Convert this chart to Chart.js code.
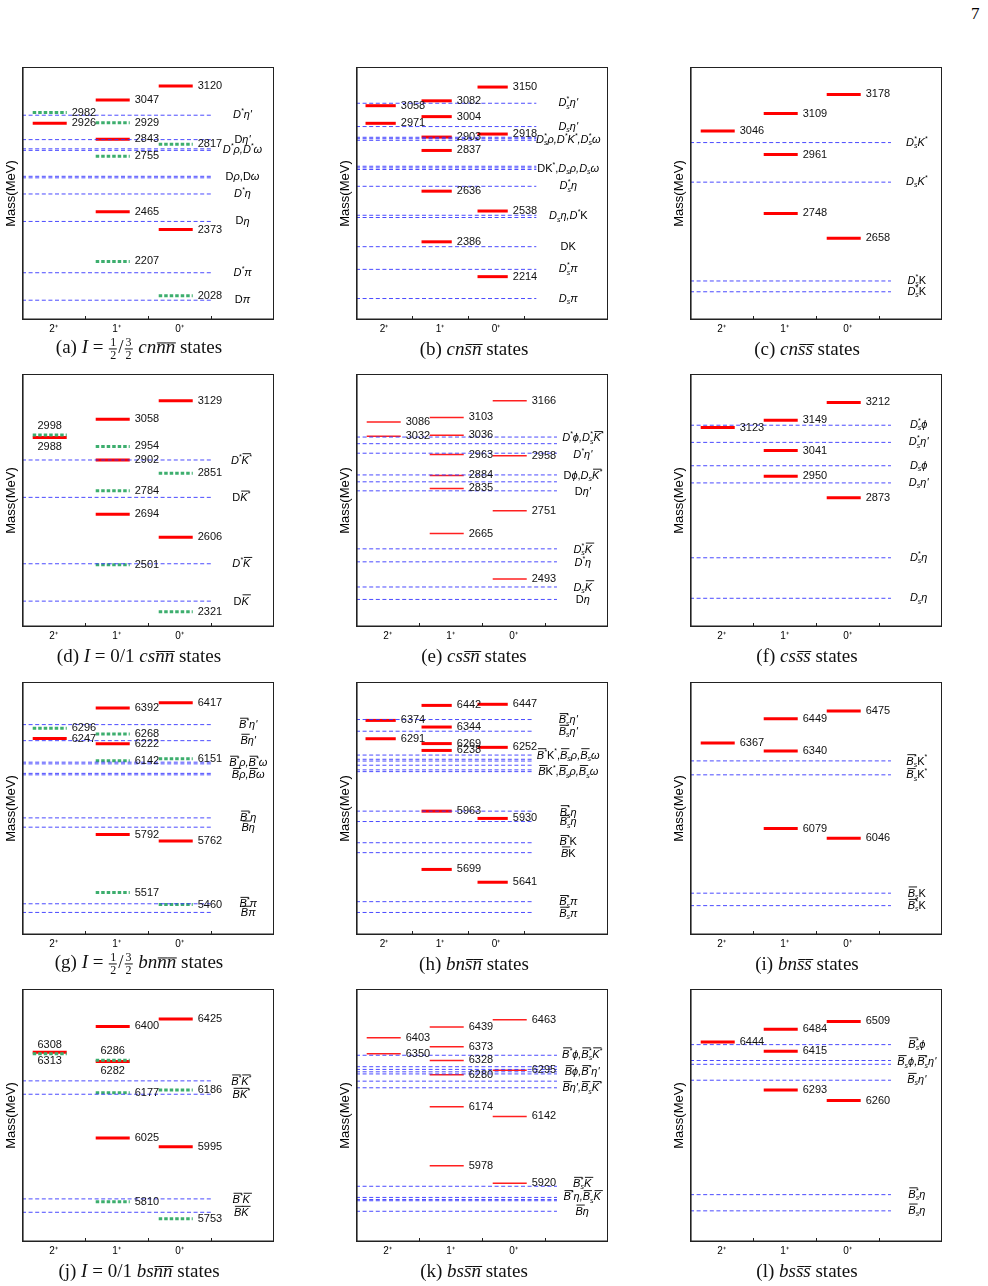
<!DOCTYPE html>
<html>
<head>
<meta charset="utf-8">
<script src="https://cdn.jsdelivr.net/npm/chart.js@4.4.1/dist/chart.umd.min.js"></script>
<style>
body{margin:0;background:#fff;}
#page{position:relative;width:988px;height:1286px;overflow:hidden;background:#fff;}
.pn{position:absolute;}
.cap{position:absolute;transform:translate(-50%,-50%);font-family:"Liberation Serif","Times New Roman",serif;font-size:19px;white-space:nowrap;color:#111;}
.cap i{font-style:italic;}
.o{position:relative;}
.o::after{content:"";position:absolute;left:1px;right:-1px;top:0.3em;border-top:1px solid #111;}
.fr{display:inline-block;vertical-align:middle;text-align:center;font-size:12px;line-height:12px;margin:0 1px;}
.fr span{display:block;padding:0 1px;}
.fr span+span{border-top:1px solid #111;}
#pnum{position:absolute;left:971px;top:4px;font-family:"Liberation Serif",serif;font-size:17px;}
</style>
</head>
<body>
<div id="page">
<div id="pnum">7</div>
</div>
<script>
// spin-parity columns
var jpCats = ["2+", "1+", "0+"];
var jpTicks = ["2\u207A", "1\u207A", "0\u207A"];

// (a) I=1/2,3/2 cn nbar nbar   r = red level, g = green dotted level
var aLevels = [["2+",2926,"r"],["2+",2982,"g"],["1+",3047,"r"],["1+",2929,"g"],["1+",2843,"r"],["1+",2755,"g"],["1+",2465,"r"],["1+",2207,"g"],["0+",3120,"r"],["0+",2817,"g"],["0+",2373,"r"],["0+",2028,"g"]];
var aThr = [2968, 2841, 2785, 2793, 2642, 2650, 2558, 2415, 2148, 2005];
var aLab = ["$D^*η'", "D$η'", "$D^*ρ,D^*ω", "D$ρ$,D$ω", "$D^*η", "D$η", "$D^*π", "D$π"];
var aLabAt = [2968, 2841, 2789, 2646, 2558, 2415, 2148, 2005];
var aRange = [1902, 3219];

// (b) cn sbar nbar
var bLevels = [["2+",3058,"r"],["2+",2971,"r"],["1+",3082,"r"],["1+",3004,"r"],["1+",2903,"r"],["1+",2837,"r"],["1+",2636,"r"],["1+",2386,"r"],["0+",3150,"r"],["0+",2918,"r"],["0+",2538,"r"],["0+",2214,"r"]];
var bThr = [3070, 2955, 2887, 2895, 2902, 2759, 2751, 2743, 2660, 2517, 2506, 2362, 2250, 2106];
var bLab = ["$D^*_sη'", "$D_sη'", "$D^*_sρ,D^*K^*,D^*_sω", "DK^*,$D_sρ,D_sω", "$D^*_sη", "$D_sη,D^*$K", "DK", "$D^*_sπ", "$D_sπ"];
var bLabAt = [3070, 2955, 2890, 2745, 2660, 2512, 2362, 2250, 2106];
var bRange = [2000, 3249];

// (c) cn sbar sbar
var cLevels = [["2+",3046,"r"],["1+",3109,"r"],["1+",2961,"r"],["1+",2748,"r"],["0+",3178,"r"],["0+",2658,"r"]];
var cThr = [3004, 2861, 2504, 2465];
var cLab = ["$D^*_sK^*", "$D_sK^*", "$D^*_s$K", "$D^*_s$K"];
var cLabAt = [3004, 2861, 2504, 2465];
var cRange = [2363, 3277];

// (d) I=0/1 cs nbar nbar
var dLevels = [["2+",2988,"r","d"],["2+",2998,"g","u"],["1+",3058,"r"],["1+",2954,"g"],["1+",2902,"r"],["1+",2784,"g"],["1+",2694,"r"],["1+",2501,"g"],["0+",3129,"r"],["0+",2851,"g"],["0+",2606,"r"],["0+",2321,"g"]];
var dThr = [2902, 2759, 2505, 2362];
var dLab = ["$D^*~K^*", "D$~K^*", "$D^*~K", "D$~K"];
var dLabAt = [2900, 2757, 2503, 2360];
var dRange = [2263, 3231];

// (e) cs sbar nbar
var eLevels = [["2+",3086,"r"],["2+",3032,"r"],["1+",3103,"r"],["1+",3036,"r"],["1+",2963,"r"],["1+",2884,"r"],["1+",2835,"r"],["1+",2665,"r"],["0+",3166,"r"],["0+",2958,"r"],["0+",2751,"r"],["0+",2493,"r"]];
var eThr = [3029, 3004, 2968, 2886, 2860, 2826, 2607, 2558, 2463, 2416];
var eLab = ["$D^*ϕ,D^*_s~K^*", "$D^*η'", "D$ϕ$,$D_s~K^*", "D$η'", "$D^*_s~K", "$D^*η", "$D_s~K", "D$η"];
var eLabAt = [3024, 2961, 2882, 2820, 2603, 2552, 2461, 2414];
var eRange = [2312, 3267];

// (f) cs sbar sbar
var fLevels = [["2+",3123,"r"],["1+",3149,"r"],["1+",3041,"r"],["1+",2950,"r"],["0+",3212,"r"],["0+",2873,"r"]];
var fThr = [3131, 3070, 2987, 2926, 2660, 2516];
var fLab = ["$D^*_sϕ", "$D^*_sη'", "$D_sϕ", "$D_sη'", "$D^*_sη", "$D_sη"];
var fLabAt = [3131, 3070, 2987, 2926, 2660, 2516];
var fRange = [2414, 3313];

// (g) I=1/2,3/2 bn nbar nbar
var gLevels = [["2+",6247,"r"],["2+",6296,"g"],["1+",6392,"r"],["1+",6268,"g"],["1+",6222,"r"],["1+",6142,"g"],["1+",5792,"r"],["1+",5517,"g"],["0+",6417,"r"],["0+",6151,"g"],["0+",5762,"r"],["0+",5460,"g"]];
var gThr = [6313, 6237, 6127, 6135, 6075, 6082, 5871, 5827, 5464, 5423];
var gLab = ["$~B^*η'", "$~Bη'", "$~B^*ρ,~B^*ω", "$~Bρ,~Bω", "$~B^*η", "$~Bη", "$~B^*π", "$~Bπ"];
var gLabAt = [6311, 6235, 6131, 6073, 5871, 5824, 5462, 5420];
var gRange = [5316, 6515];

// (h) bn sbar nbar
var hLevels = [["2+",6374,"r"],["2+",6291,"r"],["1+",6442,"r"],["1+",6344,"r"],["1+",6269,"r"],["1+",6238,"r"],["1+",5963,"r"],["1+",5699,"r"],["0+",6447,"r"],["0+",6252,"r"],["0+",5930,"r"],["0+",5641,"r"]];
var hThr = [6378, 6325, 6217, 6198, 6190, 6171, 6150, 6142, 5963, 5916, 5820, 5775, 5553, 5504];
var hLab = ["$~B^*_sη'", "$~B_sη'", "$~B^*$K^*,$~B_sρ,~B_sω", "$~B$K^*,$~B_sρ,~B_sω", "$~B^*_sη", "$~B_sη", "$~B^*$K", "$~B$K", "$~B^*_sπ", "$~B_sπ"];
var hLabAt = [6374, 6321, 6215, 6139, 5957, 5912, 5822, 5770, 5550, 5497];
var hRange = [5402, 6548];

// (i) bn sbar sbar
var iLevels = [["2+",6367,"r"],["1+",6449,"r"],["1+",6340,"r"],["1+",6079,"r"],["0+",6475,"r"],["0+",6046,"r"]];
var iThr = [6307, 6260, 5861, 5819];
var iLab = ["$~B^*_s$K^*", "$~B_s$K^*", "$~B_s$K", "$~B^*_s$K"];
var iLabAt = [6305, 6258, 5859, 5817];
var iRange = [5720, 6573];

// (j) I=0/1 bs nbar nbar
var jLevels = [["2+",6313,"r","d"],["2+",6308,"g","u"],["1+",6400,"r"],["1+",6282,"r","d"],["1+",6286,"g","u"],["1+",6177,"g"],["1+",6025,"r"],["1+",5810,"g"],["0+",6425,"r"],["0+",6186,"g"],["0+",5995,"r"],["0+",5753,"g"]];
var jThr = [6217, 6172, 5820, 5775];
var jLab = ["$~B^*~K^*", "$~B~K^*", "$~B^*~K", "$~B~K"];
var jLabAt = [6214, 6169, 5816, 5772];
var jRange = [5675, 6526];

// (k) bs sbar nbar
var kLevels = [["2+",6403,"r"],["2+",6350,"r"],["1+",6439,"r"],["1+",6373,"r"],["1+",6328,"r"],["1+",6280,"r"],["1+",6174,"r"],["1+",5978,"r"],["0+",6463,"r"],["0+",6295,"r"],["0+",6142,"r"],["0+",5920,"r"]];
var kThr = [6345, 6307, 6298, 6290, 6283, 6259, 6237, 5910, 5873, 5866, 5862, 5827];
var kLab = ["$~B^*ϕ,~B^*_s~K^*", "$~Bϕ,~B^*η'", "$~Bη',~B_s~K^*", "$~B^*_s~K", "$~B^*η,~B_s~K", "$~Bη"];
var kLabAt = [6347, 6288, 6235, 5917, 5873, 5825];
var kRange = [5725, 6565];

// (l) bs sbar sbar
var lLevels = [["2+",6444,"r"],["1+",6484,"r"],["1+",6415,"r"],["1+",6293,"r"],["0+",6509,"r"],["0+",6260,"r"]];
var lThr = [6436, 6386, 6374, 6324, 5964, 5913];
var lLab = ["$~B^*_sϕ", "$~B_sϕ,~B^*_sη'", "$~B_sη'", "$~B^*_sη", "$~B_sη"];
var lLabAt = [6436, 6380, 6324, 5964, 5913];
var lRange = [5815, 6611];

var FONT = '"Liberation Sans", Arial, Helvetica, sans-serif';
Chart.defaults.font.family = FONT;

// tiny markup: $ toggles italic, ^x superscript, _x subscript, ~x overline
function drawRich(ctx, str, cx, cy, size) {
  var runs = [], it = false;
  for (var i = 0; i < str.length; i++) {
    var c = str[i];
    if (c === "$") { it = !it; continue; }
    var mode = "n", over = false;
    if (c === "^" || c === "_") { mode = c === "^" ? "sup" : "sub"; c = str[++i]; }
    else if (c === "~") { over = true; c = str[++i]; }
    runs.push({ c: c, it: it, mode: mode, over: over });
  }
  function fnt(r) {
    return (r.it ? "italic " : "") + (r.mode === "n" ? size : Math.round(size * 0.68)) + "px " + FONT;
  }
  var x = 0, pos = [];
  for (var j = 0; j < runs.length; j++) {
    var r = runs[j];
    ctx.font = fnt(r);
    var w = ctx.measureText(r.c).width;
    var pr = runs[j - 1];
    if (r.mode !== "n" && pr && pr.mode !== "n" && pr.mode !== r.mode && !pr.stacked) {
      r.stacked = true;
      pos.push({ x: pos[j - 1].x, w: w });
      x = Math.max(x, pos[j - 1].x + w);
    } else {
      pos.push({ x: x, w: w });
      x += w;
    }
  }
  var sx = cx - x / 2;
  ctx.fillStyle = "#000";
  ctx.strokeStyle = "#000";
  ctx.textAlign = "left";
  ctx.textBaseline = "middle";
  for (var k = 0; k < runs.length; k++) {
    var q = runs[k];
    ctx.font = fnt(q);
    var dy = q.mode === "sup" ? -size * 0.36 : q.mode === "sub" ? size * 0.3 : 0;
    ctx.fillText(q.c, sx + pos[k].x, cy + dy);
    if (q.over) {
      ctx.lineWidth = 0.9;
      ctx.beginPath();
      ctx.moveTo(sx + pos[k].x + 1, cy - size * 0.62);
      ctx.lineTo(sx + pos[k].x + pos[k].w + 2, cy - size * 0.62);
      ctx.stroke();
    }
  }
}

var levelText = {
  id: "levelText",
  afterDatasetsDraw: function (chart, args, opts) {
    var ctx = chart.ctx, xs = chart.scales.x, ys = chart.scales.y, a = chart.chartArea;
    ctx.save();
    // state masses next to the bars
    ctx.font = "11px " + FONT;
    ctx.fillStyle = "#111";
    chart.data.datasets.forEach(function (ds, i) {
      if (ds.kind !== "state") return;
      var m = chart.getDatasetMeta(i);
      var p0 = m.data[0], p1 = m.data[1];
      if (ds.labPos === "u" || ds.labPos === "d") {
        ctx.textAlign = "center";
        ctx.textBaseline = "middle";
        ctx.fillText(ds.lab, (p0.x + p1.x) / 2, p1.y + (ds.labPos === "u" ? -9 : 9));
      } else {
        ctx.textAlign = "left";
        ctx.textBaseline = "middle";
        ctx.fillText(ds.lab, p1.x + 5, p1.y);
      }
    });
    // threshold names
    opts.lab.forEach(function (t, i) {
      drawRich(ctx, t, xs.getPixelForValue(opts.labX), ys.getPixelForValue(opts.at[i]), 11);
    });
    // frame and inward ticks
    ctx.strokeStyle = "#222";
    ctx.lineWidth = 1;
    ctx.strokeRect(Math.round(a.left) + 0.5, Math.round(a.top) + 0.5, Math.round(a.right - a.left) - 1, Math.round(a.bottom - a.top) - 1);
    ctx.lineWidth = 1.6;
    ctx.beginPath();
    ctx.moveTo(a.left + 0.8, a.top);
    ctx.lineTo(a.left + 0.8, a.bottom - 0.8);
    ctx.lineTo(a.right, a.bottom - 0.8);
    ctx.stroke();
    ctx.lineWidth = 1;
    [1, 2, 3].forEach(function (v) {
      var x = Math.round(xs.getPixelForValue(v)) + 0.5;
      ctx.beginPath();
      ctx.moveTo(x, a.bottom);
      ctx.lineTo(x, a.bottom - 4);
      ctx.stroke();
    });
    ctx.restore();
  }
};

var colLeft = [22, 356, 690];
var rowTop = [67, 374, 682, 989];
var capMid = [139, 474, 807];
var capY = [349, 656, 964, 1271];

var panels = [
  { lv: aLevels, thr: aThr, lab: aLab, at: aLabAt, rg: aRange, col: 0, row: 0, xMax: 4.0, thrEnd: 3.0, labX: 3.5 },
  { lv: bLevels, thr: bThr, lab: bLab, at: bLabAt, rg: bRange, col: 1, row: 0, xMax: 4.5, thrEnd: 3.22, labX: 3.79 },
  { lv: cLevels, thr: cThr, lab: cLab, at: cLabAt, rg: cRange, col: 2, row: 0, xMax: 4.0, thrEnd: 3.19, labX: 3.6 },
  { lv: dLevels, thr: dThr, lab: dLab, at: dLabAt, rg: dRange, col: 0, row: 1, xMax: 4.0, thrEnd: 3.0, labX: 3.48 },
  { lv: eLevels, thr: eThr, lab: eLab, at: eLabAt, rg: eRange, col: 1, row: 1, xMax: 4.0, thrEnd: 3.19, labX: 3.6, thin: true },
  { lv: fLevels, thr: fThr, lab: fLab, at: fLabAt, rg: fRange, col: 2, row: 1, xMax: 4.0, thrEnd: 3.19, labX: 3.63 },
  { lv: gLevels, thr: gThr, lab: gLab, at: gLabAt, rg: gRange, col: 0, row: 2, xMax: 4.0, thrEnd: 3.0, labX: 3.59 },
  { lv: hLevels, thr: hThr, lab: hLab, at: hLabAt, rg: hRange, col: 1, row: 2, xMax: 4.5, thrEnd: 3.17, labX: 3.79 },
  { lv: iLevels, thr: iThr, lab: iLab, at: iLabAt, rg: iRange, col: 2, row: 2, xMax: 4.0, thrEnd: 3.19, labX: 3.6 },
  { lv: jLevels, thr: jThr, lab: jLab, at: jLabAt, rg: jRange, col: 0, row: 3, xMax: 4.0, thrEnd: 3.0, labX: 3.48 },
  { lv: kLevels, thr: kThr, lab: kLab, at: kLabAt, rg: kRange, col: 1, row: 3, xMax: 4.0, thrEnd: 3.19, labX: 3.59, thin: true },
  { lv: lLevels, thr: lThr, lab: lLab, at: lLabAt, rg: lRange, col: 2, row: 3, xMax: 4.0, thrEnd: 3.19, labX: 3.6 }
];

var fr = function (n, d) { return '<span class="fr"><span>' + n + '</span><span>' + d + '</span></span>'; };
var ov = function (c) { return '<span class="o">' + c + '</span>'; };
var captions = [
  '(a) <i>I</i> = ' + fr(1, 2) + '/' + fr(3, 2) + ' <i>cn' + ov('n') + ov('n') + '</i> states',
  '(b) <i>cn' + ov('s') + ov('n') + '</i> states',
  '(c) <i>cn' + ov('s') + ov('s') + '</i> states',
  '(d) <i>I</i> = 0/1 <i>cs' + ov('n') + ov('n') + '</i> states',
  '(e) <i>cs' + ov('s') + ov('n') + '</i> states',
  '(f) <i>cs' + ov('s') + ov('s') + '</i> states',
  '(g) <i>I</i> = ' + fr(1, 2) + '/' + fr(3, 2) + ' <i>bn' + ov('n') + ov('n') + '</i> states',
  '(h) <i>bn' + ov('s') + ov('n') + '</i> states',
  '(i) <i>bn' + ov('s') + ov('s') + '</i> states',
  '(j) <i>I</i> = 0/1 <i>bs' + ov('n') + ov('n') + '</i> states',
  '(k) <i>bs' + ov('s') + ov('n') + '</i> states',
  '(l) <i>bs' + ov('s') + ov('s') + '</i> states'
];

var page = document.getElementById("page");
var CW = 304, CH = 290;

panels.forEach(function (p, n) {
  var box = document.createElement("div");
  box.className = "pn";
  box.style.left = (colLeft[p.col] - 22) + "px";
  box.style.top = (rowTop[p.row] - 7) + "px";
  var cv = document.createElement("canvas");
  cv.width = CW; cv.height = CH;
  cv.style.width = CW + "px"; cv.style.height = CH + "px";
  box.appendChild(cv);
  page.appendChild(box);

  var cap = document.createElement("div");
  cap.className = "cap";
  cap.style.left = capMid[p.col] + "px";
  cap.style.top = capY[p.row] + "px";
  cap.innerHTML = captions[n];
  page.appendChild(cap);

  var datasets = [];
  p.lv.forEach(function (lv) {
    var k = jpCats.indexOf(lv[0]);
    var green = lv[2] === "g";
    datasets.push({
      kind: "state", lab: String(lv[1]), labPos: lv[3] || "",
      data: [{ x: k + 0.17, y: lv[1] }, { x: k + 0.71, y: lv[1] }],
      borderColor: green ? "#3dae6e" : (p.thin ? "#ff2020" : "#ff0000"),
      borderWidth: p.thin ? 1.5 : 3,
      borderDash: green ? [3.5, 2] : [],
      borderCapStyle: "butt",
      pointRadius: 0,
      order: green ? 1 : 2
    });
  });
  p.thr.forEach(function (v) {
    datasets.push({
      kind: "thr",
      data: [{ x: 0, y: v }, { x: p.thrEnd, y: v }],
      borderColor: "rgba(50,50,255,0.88)",
      borderWidth: 1,
      borderDash: [4, 2.6],
      pointRadius: 0,
      order: 0
    });
  });

  new Chart(cv, {
    type: "line",
    data: { datasets: datasets },
    plugins: [levelText],
    options: {
      responsive: false,
      animation: false,
      events: [],
      layout: { padding: { left: 0, top: 7, right: CW - 22 - 252, bottom: 6 } },
      plugins: {
        legend: { display: false },
        tooltip: { enabled: false },
        levelText: { lab: p.lab, at: p.at, labX: p.labX }
      },
      scales: {
        x: {
          type: "linear", min: 0, max: p.xMax,
          grid: { display: false, drawTicks: false },
          border: { display: false },
          afterBuildTicks: function (s) { s.ticks = [0.5, 1.5, 2.5].map(function (v) { return { value: v }; }); },
          afterFit: function (s) { s.height = 24; },
          ticks: {
            autoSkip: false, maxRotation: 0, padding: 3, color: "#000",
            font: { size: 10 },
            callback: function (v) { return jpTicks[Math.floor(v)]; }
          }
        },
        y: {
          type: "linear", min: p.rg[0], max: p.rg[1],
          grid: { display: false, drawTicks: false },
          border: { display: false },
          ticks: { display: false },
          afterFit: function (s) { s.width = 22; },
          title: { display: true, text: "Mass(MeV)", color: "#000", font: { size: 13 }, padding: { top: 4, bottom: 0 } }
        }
      }
    }
  });
});
</script>
</body>
</html>
